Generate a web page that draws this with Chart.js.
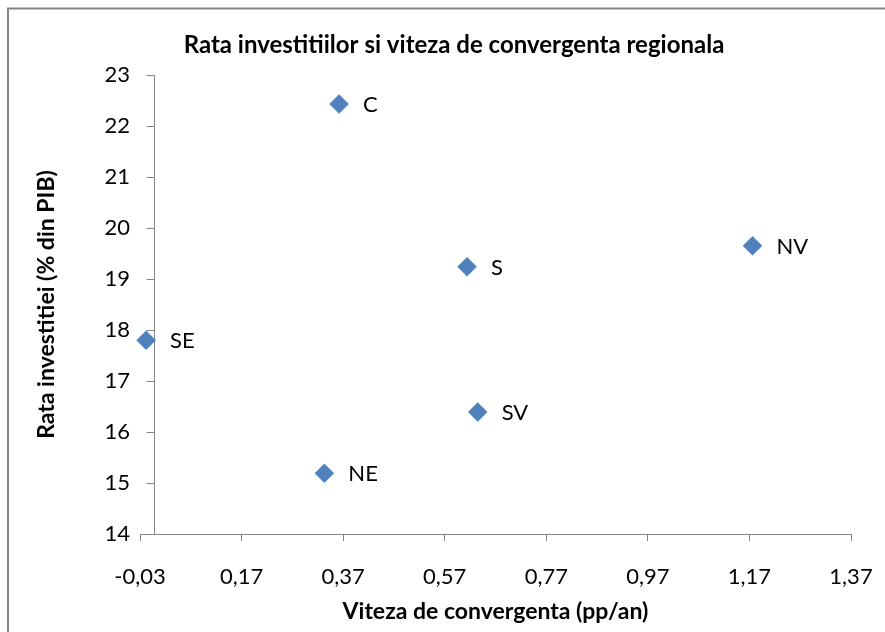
<!DOCTYPE html>
<html>
<head>
<meta charset="utf-8">
<script src="https://cdn.jsdelivr.net/npm/chart.js@4.4.1/dist/chart.umd.min.js"></script>
<style>
html,body{margin:0;padding:0;background:#fff;}
#wrap{width:885px;height:632px;position:relative;}
</style>
</head>
<body>
<div id="wrap"><canvas id="c" width="885" height="632"></canvas></div>
<script>
// ---- data ----
const regions = ['C', 'NV', 'S', 'SE', 'SV', 'NE'];
const convergenceSpeed = [0.362, 1.176, 0.614, -0.018, 0.635, 0.333];
const investmentRate = [22.43, 19.65, 19.24, 17.80, 16.39, 15.19];
const xTickValues = [-0.03, 0.17, 0.37, 0.57, 0.77, 0.97, 1.17, 1.37];
const yTickValues = [14, 15, 16, 17, 18, 19, 20, 21, 22, 23];
const chartTitle = 'Rata investitiilor si viteza de convergenta regionala';
const xTitle = 'Viteza de convergenta (pp/an)';
const yTitle = 'Rata investitiei (% din PIB)';

const FONT = 'Lato, "Open Sans", sans-serif';
const AXIS_COLOR = '#868686';
const POINT_COLOR = '#4F81BD';

const points = convergenceSpeed.map((x, i) => ({ x: x, y: investmentRate[i] }));

const framePlugin = {
  id: 'frame',
  beforeDraw(chart) {
    const ctx = chart.ctx;
    ctx.save();
    ctx.strokeStyle = '#878787';
    ctx.lineWidth = 2;
    ctx.strokeRect(8, 8.5, chart.width + 20, chart.height + 20);
    ctx.restore();
  }
};

// y axis line drawn where x = 0, with tick marks
const yAxisAtZero = {
  id: 'yAxisAtZero',
  beforeDatasetsDraw(chart) {
    const ctx = chart.ctx;
    const xs = chart.scales.x, ys = chart.scales.y;
    const px = Math.round(xs.getPixelForValue(0)) - 0.5;
    ctx.save();
    ctx.strokeStyle = AXIS_COLOR;
    ctx.lineWidth = 1;
    ctx.beginPath();
    ctx.moveTo(px, ys.top);
    ctx.lineTo(px, ys.bottom);
    ys.ticks.forEach(t => {
      const py = Math.round(ys.getPixelForValue(t.value)) + 0.5;
      ctx.moveTo(px - 8, py);
      ctx.lineTo(px, py);
    });
    ctx.stroke();
    ctx.restore();
  }
};

const pointLabels = {
  id: 'pointLabels',
  afterDatasetsDraw(chart) {
    const ctx = chart.ctx;
    const meta = chart.getDatasetMeta(0);
    ctx.save();
    ctx.font = '22px ' + FONT;
    ctx.fillStyle = '#000';
    ctx.textAlign = 'left';
    ctx.textBaseline = 'middle';
    meta.data.forEach((el, i) => {
      ctx.fillText(regions[i], el.x + 24, el.y + 1);
    });
    ctx.restore();
  }
};

new Chart(document.getElementById('c'), {
  type: 'scatter',
  data: {
    datasets: [{
      data: points,
      pointStyle: 'rectRot',
      pointRadius: 9.5,
      pointHoverRadius: 9.5,
      backgroundColor: POINT_COLOR,
      borderColor: POINT_COLOR,
      borderWidth: 0.5,
      clip: false
    }]
  },
  options: {
    responsive: false,
    animation: false,
    devicePixelRatio: 1,
    layout: { padding: { left: 23, right: 0, top: 0, bottom: 0 } },
    plugins: {
      legend: { display: false },
      tooltip: { enabled: false },
      title: {
        display: true,
        text: chartTitle,
        color: '#000',
        font: { family: FONT, size: 24, weight: 'bold', lineHeight: 1.2 },
        padding: { top: 30.6, bottom: 15.6 }
      }
    },
    scales: {
      x: {
        type: 'linear',
        position: 'bottom',
        min: -0.03,
        max: 1.37,
        afterBuildTicks: (s) => { s.ticks = xTickValues.map(v => ({ value: v })); },
        afterFit: (s) => { s.height = 98; s.paddingLeft = 0; s.paddingRight = 34; },
        ticks: {
          color: '#000',
          padding: 22.8,
          font: { family: FONT, size: 22 },
          callback: (v) => Number(v).toFixed(2).replace('.', ',')
        },
        grid: { display: true, drawOnChartArea: false, drawTicks: true, tickLength: 7, color: AXIS_COLOR },
        border: { display: true, color: AXIS_COLOR, width: 1 },
        title: {
          display: true,
          text: xTitle,
          color: '#000',
          font: { family: FONT, size: 23, weight: 'bold', lineHeight: 1.2 },
          padding: { top: 0, bottom: 6.2 }
        }
      },
      y: {
        type: 'linear',
        position: 'left',
        min: 14,
        max: 23,
        afterBuildTicks: (s) => { s.ticks = yTickValues.map(v => ({ value: v })); },
        afterFit: (s) => { s.width = 117; },
        ticks: {
          color: '#000',
          padding: 10,
          font: { family: FONT, size: 22 },
          callback: (v) => String(v)
        },
        grid: { display: false, drawTicks: false },
        border: { display: false },
        title: {
          display: true,
          text: yTitle,
          color: '#000',
          font: { family: FONT, size: 23, weight: 'bold', lineHeight: 1.2 },
          padding: { top: 10.2, bottom: 0 }
        }
      }
    }
  },
  plugins: [framePlugin, yAxisAtZero, pointLabels]
});
</script>
</body>
</html>
